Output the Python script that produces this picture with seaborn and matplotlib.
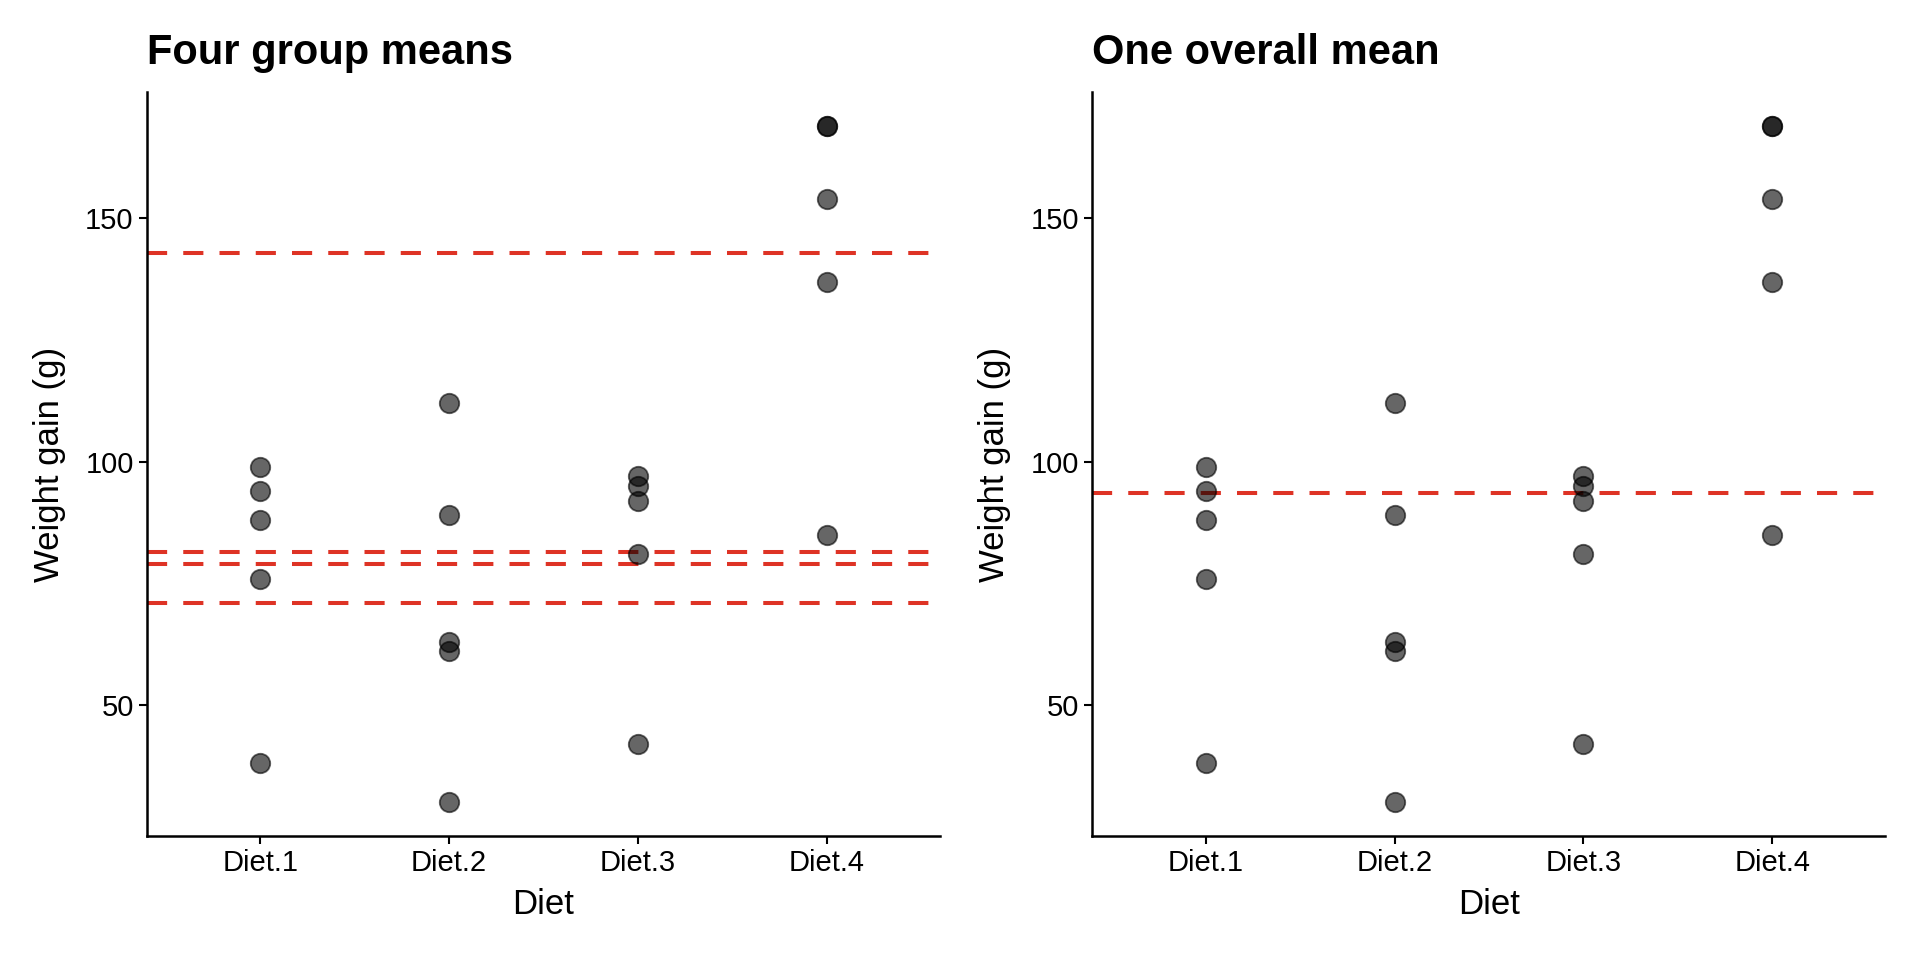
import numpy as np
import pandas as pd
import matplotlib
matplotlib.use('Agg')
import matplotlib.pyplot as plt
import seaborn as sns

# Data
diets = ['Diet.1', 'Diet.2', 'Diet.3', 'Diet.4']
diet1 = [99, 94, 88, 76, 38]
diet2 = [112, 89, 63, 61, 30]
diet3 = [97, 95, 92, 81, 42]
diet4 = [169, 169, 154, 137, 85]

df = pd.DataFrame({
    'Diet': np.repeat(diets, 5),
    'gain': diet1 + diet2 + diet3 + diet4,
})
group_means = df.groupby('Diet')['gain'].mean()
overall_mean = df['gain'].mean()

sns.set_theme(style='ticks')
plt.rcParams['font.family'] = ['Liberation Sans', 'DejaVu Sans']
plt.rcParams['text.color'] = 'black'
plt.rcParams['axes.labelcolor'] = 'black'

fig = plt.figure(figsize=(19.2, 9.6), dpi=100)
ax1 = fig.add_axes([0.0765, 0.129, 0.413, 0.775])
ax2 = fig.add_axes([0.569, 0.129, 0.413, 0.775])

red = '#DE3325'
ymin, ymax = df['gain'].min(), df['gain'].max()
pad = (ymax - ymin) * 0.05

for ax, title in [(ax1, 'Four group means'), (ax2, 'One overall mean')]:
    if ax is ax1:
        for m in group_means.values:
            ax.axhline(m, color=red, lw=2.9, dashes=(5, 4), zorder=1)
    else:
        ax.axhline(overall_mean, color=red, lw=2.9, dashes=(5, 4), zorder=1)
    sns.stripplot(data=df, x='Diet', y='gain', order=diets, jitter=False,
                  color='black', alpha=0.6, size=14, linewidth=1.3,
                  edgecolor='black', ax=ax, zorder=3)
    ax.set_xlim(-0.6, 3.6)
    ax.set_ylim(ymin - pad, ymax + pad)
    ax.set_yticks([50, 100, 150])
    ax.set_title(title, loc='left', fontsize=30, fontweight='bold', pad=20, color='black')
    ax.set_xlabel('Diet', fontsize=25, labelpad=8)
    ax.set_ylabel('Weight gain (g)', fontsize=25, labelpad=14)
    ax.tick_params(labelsize=21, length=6, width=1.5, color='black', labelcolor='black')
    for s in ['left', 'bottom']:
        ax.spines[s].set_linewidth(1.8)
        ax.spines[s].set_color('black')
    sns.despine(ax=ax)

fig.savefig('out.png', dpi=100)
